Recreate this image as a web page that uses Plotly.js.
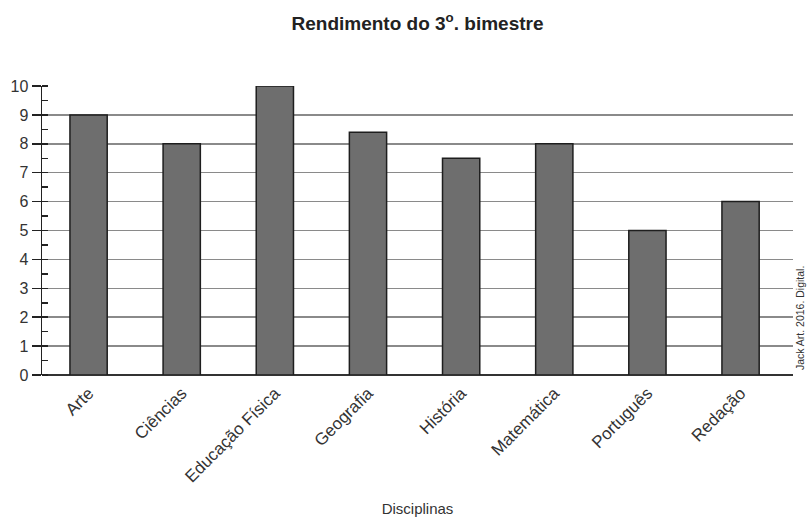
<!DOCTYPE html>
<html>
<head>
<meta charset="utf-8">
<script src="https://cdn.plot.ly/plotly-3.0.1.min.js"></script>
<style>html,body{margin:0;padding:0;background:#fff;}#chart{width:811px;height:517px;}</style>
</head>
<body>
<div id="chart"></div>
<script>
const disciplinas = ["Arte", "Ciências", "Educação Física", "Geografia", "História", "Matemática", "Português", "Redação"];
const notas = [9, 8, 10, 8.4, 7.5, 8, 5, 6];
const yTicks = [0, 1, 2, 3, 4, 5, 6, 7, 8, 9, 10];

const trace = {
  type: "bar",
  x: disciplinas,
  y: notas,
  marker: {color: "#6e6e6e", line: {color: "#1e1e1e", width: 1.5}},
  hoverinfo: "x+y"
};

const layout = {
  width: 811, height: 517,
  margin: {l: 42, r: 18, t: 86, b: 142},
  paper_bgcolor: "#ffffff",
  plot_bgcolor: "#ffffff",
  showlegend: false,
  bargap: 0.6,
  font: {family: "Liberation Sans", color: "#2a2a2a"},
  title: {
    text: "Rendimento do 3<sup>o</sup>. bimestre",
    font: {family: "Liberation Sans", size: 19, color: "#222", weight: "bold"},
    x: 0.5, xref: "paper", xanchor: "center",
    y: 0.955, yref: "container", yanchor: "middle"
  },
  xaxis: {
    type: "category",
    range: [-0.5, 7.563],
    tickangle: -45,
    tickfont: {family: "Liberation Sans", size: 17, color: "#333"},
    ticks: "",
    ticklabelstandoff: 4,
    showgrid: false,
    showline: false,
    zeroline: false,
    automargin: false,
    title: {text: "Disciplinas", font: {family: "Liberation Sans", size: 15, color: "#333"}, standoff: 22}
  },
  yaxis: {
    range: [0, 10],
    tickmode: "array",
    tickvals: yTicks,
    ticktext: yTicks.map(String),
    tickfont: {family: "Liberation Sans", size: 16, color: "#333"},
    ticks: "outside",
    ticklen: 9,
    tickwidth: 1.5,
    tickcolor: "#222",
    showline: true,
    linecolor: "#222",
    linewidth: 1.5,
    showgrid: true,
    gridcolor: "#8a8a8a",
    gridwidth: 1.5,
    zeroline: true,
    zerolinecolor: "#333",
    zerolinewidth: 2,
    automargin: false,
    minor: {ticks: "inside", dtick: 0.5, tick0: 0.5, ticklen: 6, tickwidth: 1.5, tickcolor: "#222", showgrid: false}
  },
  annotations: [{
    text: "Jack Art. 2016. Digital.",
    xref: "paper", yref: "paper",
    x: 1.0, y: 0.01,
    xshift: 7,
    xanchor: "center", yanchor: "bottom",
    textangle: -90,
    showarrow: false,
    font: {family: "Liberation Sans", size: 10.5, color: "#333"}
  }]
};

Plotly.newPlot("chart", [trace], layout, {displayModeBar: false, staticPlot: true});
</script>
</body>
</html>
